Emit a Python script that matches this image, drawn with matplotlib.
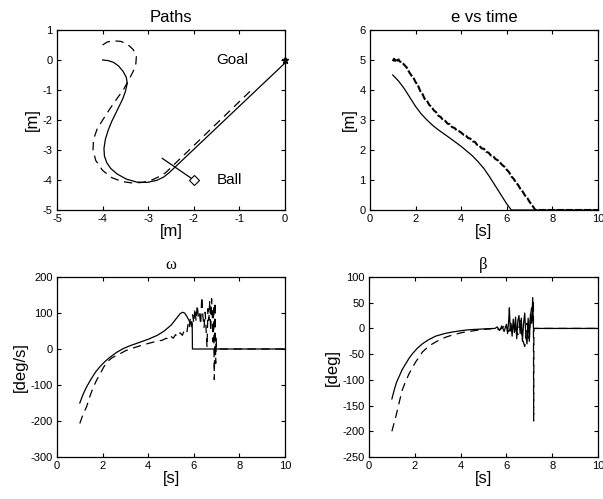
import matplotlib
matplotlib.use("Agg")
import matplotlib.pyplot as plt

plt.rcParams['font.family'] = ['Liberation Sans', 'DejaVu Sans']
plt.rcParams['lines.scale_dashes'] = False
plt.rcParams['axes.unicode_minus'] = False

# ---------------- Paths ----------------
path_solid_x = [-4.00, -3.88, -3.76, -3.65, -3.55, -3.48, -3.46, -3.50, -3.56, -3.64, -3.72, -3.80,
                -3.88, -3.94, -3.97, -3.96, -3.91, -3.82, -3.68, -3.48, -3.25, -3.02, -2.81, -2.66,
                -2.55, 0.00]
path_solid_y = [0.00, -0.02, -0.08, -0.20, -0.38, -0.58, -0.78, -1.05, -1.30, -1.55, -1.80, -2.05,
                -2.35, -2.65, -2.95, -3.20, -3.42, -3.62, -3.80, -3.97, -4.07, -4.08, -4.01, -3.90,
                -3.77, -0.10]
path_dash_x = [-4.00, -3.90, -3.76, -3.60, -3.45, -3.33, -3.26, -3.27, -3.33, -3.42, -3.54, -3.70,
               -3.85, -3.99, -4.12, -4.20, -4.21, -4.15, -4.00, -3.80, -3.58, -3.35, -3.12, -2.92,
               -2.75, -2.62, -0.75]
path_dash_y = [0.50, 0.60, 0.64, 0.62, 0.52, 0.35, 0.12, -0.12, -0.38, -0.65, -0.98, -1.32,
               -1.65, -1.98, -2.30, -2.65, -3.00, -3.35, -3.68, -3.92, -4.05, -4.10, -4.08, -4.00,
               -3.88, -3.76, -1.02]
ball_xy = (-2.0, -4.0)
ball_heading_x = [-2.69, -2.0]
ball_heading_y = [-3.28, -4.0]
goal_xy = (0.0, 0.0)

# ---------------- e vs time ----------------
e_t_solid = [1.0, 1.25, 1.5, 1.75, 2.0, 2.25, 2.5, 2.75, 3.0, 3.5, 4.0, 4.5, 4.75, 5.0, 5.25,
             5.5, 5.75, 6.0, 6.2, 10.0]
e_solid = [4.50, 4.30, 4.05, 3.75, 3.45, 3.20, 3.00, 2.82, 2.67, 2.40, 2.12, 1.80, 1.60, 1.38, 1.10,
           0.80, 0.50, 0.20, 0.00, 0.00]
e_t_dash = [1.0, 1.05, 1.1, 1.15, 1.2, 1.25, 1.3, 1.4, 1.5, 1.6, 1.7, 1.8, 1.9, 2.0, 2.1, 2.2, 2.3,
            2.4, 2.5, 2.6, 2.7, 2.8, 2.9, 3.0, 3.1, 3.2, 3.3, 3.4, 3.5, 3.6, 3.7, 3.8, 3.9, 4.0,
            4.1, 4.2, 4.3, 4.4, 4.5, 4.6, 4.7, 4.8, 4.9, 5.0, 5.1, 5.2, 5.3, 5.4, 5.5, 5.6, 5.7,
            5.8, 5.9, 6.0, 6.1, 6.2, 6.3, 6.4, 6.5, 6.6, 6.7, 6.8, 6.9, 7.0, 7.1, 7.2, 7.25, 10.0]
e_dash = [4.96, 5.04, 4.97, 5.05, 4.98, 5.02, 4.95, 4.93, 4.84, 4.76, 4.62, 4.50, 4.42, 4.26, 4.16,
          3.97, 3.87, 3.70, 3.64, 3.50, 3.44, 3.32, 3.26, 3.14, 3.10, 3.00, 2.97, 2.88, 2.86, 2.76,
          2.74, 2.66, 2.63, 2.58, 2.51, 2.49, 2.40, 2.38, 2.29, 2.27, 2.17, 2.14, 2.05, 2.04, 1.94,
          1.91, 1.82, 1.80, 1.70, 1.66, 1.58, 1.50, 1.44, 1.34, 1.26, 1.12, 1.04, 0.92, 0.83, 0.70,
          0.61, 0.48, 0.40, 0.27, 0.17, 0.06, 0.00, 0.00]

# ---------------- omega ----------------
w_t_solid = [1.0, 1.15, 1.3, 1.5, 1.7, 1.9, 2.1, 2.3, 2.6, 2.9, 3.2, 3.6, 4.0, 4.4, 4.7, 5.0, 5.2,
             5.4, 5.5, 5.6, 5.7, 5.8, 5.85, 5.9, 5.93, 5.94, 10.0]
w_solid = [-150, -125, -105, -83, -63, -48, -35, -24, -10, 1, 9, 18, 27, 38, 50, 66, 82,
           98, 102, 100, 90, 78, 70, 76, 68, 0, 0]
w_t_dash = [1.0, 1.15, 1.3, 1.45, 1.6, 1.75, 1.9, 2.05, 2.2, 2.4, 2.6, 2.8, 3.0, 3.2, 3.5, 3.8,
            4.1, 4.4, 4.6, 4.8, 4.9, 5.0, 5.1, 5.2, 5.3, 5.4, 5.5, 5.6, 5.7, 5.75, 5.8, 5.85, 5.9,
            5.95, 6.0, 6.05, 6.1, 6.15, 6.2, 6.25, 6.3, 6.35, 6.4, 6.45, 6.5, 6.55, 6.58, 6.62,
            6.66, 6.7, 6.74, 6.78, 6.81, 6.84, 6.87, 6.9, 6.93, 6.96, 6.98, 7.0, 10.0]
w_dash = [-207, -180, -160, -130, -105, -85, -68, -50, -36, -25, -18, -12, -5, 0, 6, 12,
          17, 22, 24, 30, 26, 35, 30, 40, 34, 45, 38, 55, 48, 70, 58, 85, 62,
          95, 72, 112, 78, 122, 88, 100, 68, 145, 90, 60, 102, 40, 5, 112,
          80, 135, 50, 140, 100, 20, 120, -85, 130, -40, 30, 0, 0]

# ---------------- beta ----------------
b_t_solid = [1.0, 1.1, 1.2, 1.31, 1.45, 1.6, 1.75, 1.9, 2.1, 2.33, 2.6, 2.91, 3.3, 3.64, 4.0,
             4.37, 4.8, 5.2, 5.5, 5.6, 5.7, 5.8, 5.9, 6.0, 6.05, 6.1, 6.13, 6.17, 6.2, 6.25, 6.3,
             6.35, 6.4, 6.45, 6.5, 6.55, 6.6, 6.65, 6.7, 6.75, 6.8, 6.85, 6.9, 6.95, 7.0, 7.05,
             7.1, 7.15, 7.18, 10.0]
b_solid = [-137, -120, -105, -94, -80, -69, -58, -49, -39, -30, -22, -15, -10, -7, -4.5,
           -2.5, -1.5, -0.5, 0, 3, -4, 5, -6, 8, -10, 15, 40, -5, 10, -15, 18,
           -8, 22, -20, 15, 25, -10, 20, -25, 10, 30, -15, -30, 20, -25, 28,
           10, 60, 0, 0]
b_t_dash = [1.0, 1.12, 1.24, 1.35, 1.45, 1.6, 1.75, 1.9, 2.04, 2.2, 2.33, 2.55, 2.77, 3.05,
            3.35, 3.7, 4.07, 4.5, 4.95, 5.3, 5.5, 5.7, 5.9, 6.1, 6.3, 6.5, 6.6, 6.7, 6.8, 6.9,
            7.0, 7.05, 7.1, 7.15, 7.18, 7.19, 7.2, 10.0]
b_dash = [-200, -180, -159, -138, -120, -103, -88, -76, -65, -55, -46, -37, -30, -23,
          -17, -12, -8, -5, -2, -1, 2, -3, 4, -6, 8, -12, 15, -20, -35, 10,
          -20, 25, 40, 15, 55, -180, 0, 0]

LW = 0.9
DASH = (0, (6, 4))


def style(ax):
    ax.tick_params(direction='in', length=3, width=0.8, labelsize=8,
                   top=True, right=True, pad=3)
    for s in ax.spines.values():
        s.set_linewidth(0.9)


fig = plt.figure(figsize=(6.03, 4.99), dpi=100)
W, H = 603, 499


def axes_px(l, t, r, b):
    return fig.add_axes([l / W, 1 - b / H, (r - l) / W, (b - t) / H])


# Paths
ax1 = axes_px(57, 30, 285, 210)
ax1.plot(path_solid_x, path_solid_y, color='black', lw=LW)
ax1.plot(path_dash_x, path_dash_y, color='black', lw=LW, linestyle=DASH)
ax1.plot(ball_heading_x, ball_heading_y, color='black', lw=LW)
ax1.plot([ball_xy[0]], [ball_xy[1]], marker='D', ms=5, mfc='white', mec='black', mew=0.8)
ax1.plot([goal_xy[0]], [goal_xy[1]], marker='*', ms=5, color='black', clip_on=False, lw=0)
ax1.text(-1.5, 0.0, 'Goal', fontsize=11, va='center', ha='left')
ax1.text(-1.5, -4.0, 'Ball', fontsize=11, va='center', ha='left')
ax1.set_xlim(-5, 0)
ax1.set_ylim(-5, 1)
ax1.set_xticks([-5, -4, -3, -2, -1, 0])
ax1.set_yticks([1, 0, -1, -2, -3, -4, -5])
ax1.set_title('Paths', fontsize=12, pad=6)
ax1.set_xlabel('[m]', fontsize=12, labelpad=0)
ax1.set_ylabel('[m]', fontsize=12, labelpad=2)
style(ax1)

# e vs time
ax2 = axes_px(370, 30, 598, 210)
ax2.plot(e_t_solid, e_solid, color='black', lw=LW)
ax2.plot(e_t_dash, e_dash, color='black', lw=1.5, linestyle=(0, (5, 1.5)))
ax2.set_xlim(0, 10)
ax2.set_ylim(0, 6)
ax2.set_xticks([0, 2, 4, 6, 8, 10])
ax2.set_yticks([0, 1, 2, 3, 4, 5, 6])
ax2.set_title('e vs time', fontsize=12, pad=6)
ax2.set_xlabel('[s]', fontsize=12, labelpad=0)
ax2.set_ylabel('[m]', fontsize=12, labelpad=2)
style(ax2)

# omega
ax3 = axes_px(57, 277, 285, 457)
ax3.plot(w_t_solid, w_solid, color='black', lw=LW)
ax3.plot(w_t_dash, w_dash, color='black', lw=LW, linestyle=DASH)
ax3.set_xlim(0, 10)
ax3.set_ylim(-300, 200)
ax3.set_xticks([0, 2, 4, 6, 8, 10])
ax3.set_yticks([200, 100, 0, -100, -200, -300])
ax3.set_title('ω', fontsize=12, pad=6, family=['Liberation Serif', 'DejaVu Serif'])
ax3.set_xlabel('[s]', fontsize=12, labelpad=0)
ax3.set_ylabel('[deg/s]', fontsize=12, labelpad=2)
style(ax3)

# beta
ax4 = axes_px(369, 277, 598, 457)
ax4.plot(b_t_solid, b_solid, color='black', lw=LW)
ax4.plot(b_t_dash, b_dash, color='black', lw=LW, linestyle=DASH)
ax4.set_xlim(0, 10)
ax4.set_ylim(-250, 100)
ax4.set_xticks([0, 2, 4, 6, 8, 10])
ax4.set_yticks([100, 50, 0, -50, -100, -150, -200, -250])
ax4.set_title('β', fontsize=12, pad=6, family=['Liberation Serif', 'DejaVu Serif'])
ax4.set_xlabel('[s]', fontsize=12, labelpad=0)
ax4.set_ylabel('[deg]', fontsize=12, labelpad=2)
style(ax4)

fig.savefig('out.png', dpi=100)
